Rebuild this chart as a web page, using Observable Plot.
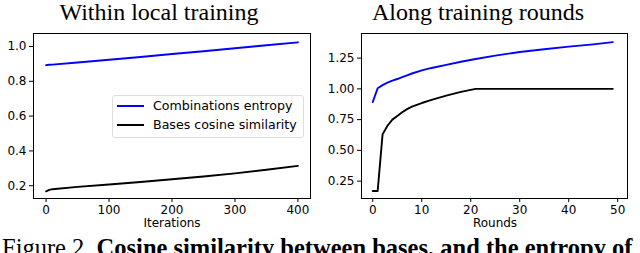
<!DOCTYPE html>
<html><head><meta charset="utf-8">
<script src="https://cdn.jsdelivr.net/npm/d3@7"></script>
<script src="https://cdn.jsdelivr.net/npm/@observablehq/plot@0.6"></script>
<style>
body{margin:0;background:#fff;width:640px;height:253px;overflow:hidden;position:relative;}
.abs{position:absolute;white-space:nowrap;}
.title{font-family:"Liberation Serif",serif;font-size:24px;line-height:1;color:#000;transform:translateX(-50%);}
.xl{font-family:"DejaVu Sans",sans-serif;font-size:12px;line-height:1;color:#000;transform:translateX(-50%);}
.cap{font-family:"Liberation Serif",serif;font-size:24.5px;line-height:1.15;color:#000;}
.legend{border:1px solid #ddd;border-radius:3px;background:rgba(255,255,255,0.8);font-family:"DejaVu Sans",sans-serif;font-size:12.6px;}
.leg-row{position:absolute;left:4px;display:flex;align-items:center;}
.leg-sw{width:27px;height:2px;margin-right:9px;}
</style></head>
<body>
<div id="left" class="abs" style="left:0;top:0"></div>
<div id="right" class="abs" style="left:320px;top:0"></div>
<script>
const iterX = [0, 5, 10, 50, 100, 150, 200, 250, 300, 350, 400];
const iterEntropy = [0.893, 0.895, 0.896, 0.908, 0.924, 0.940, 0.957, 0.973, 0.990, 1.007, 1.024];
const iterCosine = [0.168, 0.176, 0.180, 0.193, 0.207, 0.221, 0.237, 0.253, 0.271, 0.292, 0.314];

const roundX = [0, 1, 2, 3, 4, 5, 6, 7, 8, 10, 12, 15, 18, 21, 25, 30, 35, 40, 45, 49];
const roundEntropy = [0.893, 1.005, 1.03, 1.05, 1.067, 1.08, 1.095, 1.11, 1.125, 1.15, 1.17, 1.195, 1.22, 1.243, 1.27, 1.30, 1.322, 1.343, 1.362, 1.38];
const roundCosine = [0.17, 0.17, 0.63, 0.70, 0.75, 0.78, 0.81, 0.835, 0.855, 0.885, 0.91, 0.945, 0.975, 1.0, 1.0, 1.0, 1.0, 1.0, 1.0, 1.0];

const leftTicksX = [0, 100, 200, 300, 400];
const leftTicksY = [0.2, 0.4, 0.6, 0.8, 1.0];
const rightTicksX = [0, 10, 20, 30, 40, 50];
const rightTicksY = [0.25, 0.5, 0.75, 1.0, 1.25];

const seriesNames = ["Combinations entropy", "Bases cosine similarity"];
const seriesColors = ["#0000ff", "#000000"];

function rows(xs, a, b) {
  const out = [];
  xs.forEach((x, i) => out.push({x, y: a[i], s: seriesNames[0]}));
  xs.forEach((x, i) => out.push({x, y: b[i], s: seriesNames[1]}));
  return out;
}

function chart(data, xDom, yDom, xt, yt, ml, mr, yfmt) {
  return Plot.plot({
    width: 320, height: 240,
    marginLeft: ml, marginRight: mr, marginTop: 33, marginBottom: 42,
    style: {fontFamily: "DejaVu Sans", fontSize: "12px", color: "#000", background: "transparent"},
    x: {domain: xDom, ticks: xt, label: null, tickSize: 4, tickPadding: 3},
    y: {domain: yDom, ticks: yt, label: null, tickSize: 4, tickPadding: 3, tickFormat: yfmt},
    color: {domain: seriesNames, range: seriesColors},
    marks: [
      Plot.line(data, {x: "x", y: "y", z: "s", stroke: "s", strokeWidth: 1.9, curve: "linear"}),
      Plot.frame({stroke: "#000", strokeWidth: 1})
    ]
  });
}

document.getElementById("left").appendChild(
  chart(rows(iterX, iterEntropy, iterCosine), [-20, 420], [0.1265, 1.0747], leftTicksX, leftTicksY, 33, 10, d3.format(".1f")));
document.getElementById("right").appendChild(
  chart(rows(roundX, roundEntropy, roundCosine), [-2.3, 52], [0.109, 1.45], rightTicksX, rightTicksY, 41, 13, d3.format(".2f")));

function add(html, cls, style) {
  const d = document.createElement("div");
  d.className = "abs " + cls;
  d.setAttribute("style", style);
  d.innerHTML = html;
  document.body.appendChild(d);
  return d;
}
add("Within local training", "title", "left:159px;top:0px");
add("Along training rounds", "title", "left:478px;top:0px");
add("Iterations", "xl", "left:172px;top:217px");
add("Rounds", "xl", "left:495px;top:217px");
add("Figure 2. <b>Cosine similarity between bases, and the entropy of</b>", "cap", "left:2px;top:234px");

const lg = add("", "legend", "left:112px;top:95px;width:190px;height:41px");
seriesNames.forEach((n, i) => {
  const r = document.createElement("div");
  r.className = "leg-row";
  r.style.top = (i === 0 ? 2 : 21) + "px";
  r.innerHTML = `<span class="leg-sw" style="background:${seriesColors[i]}"></span><span>${n}</span>`;
  lg.appendChild(r);
});
</script>
</body></html>
